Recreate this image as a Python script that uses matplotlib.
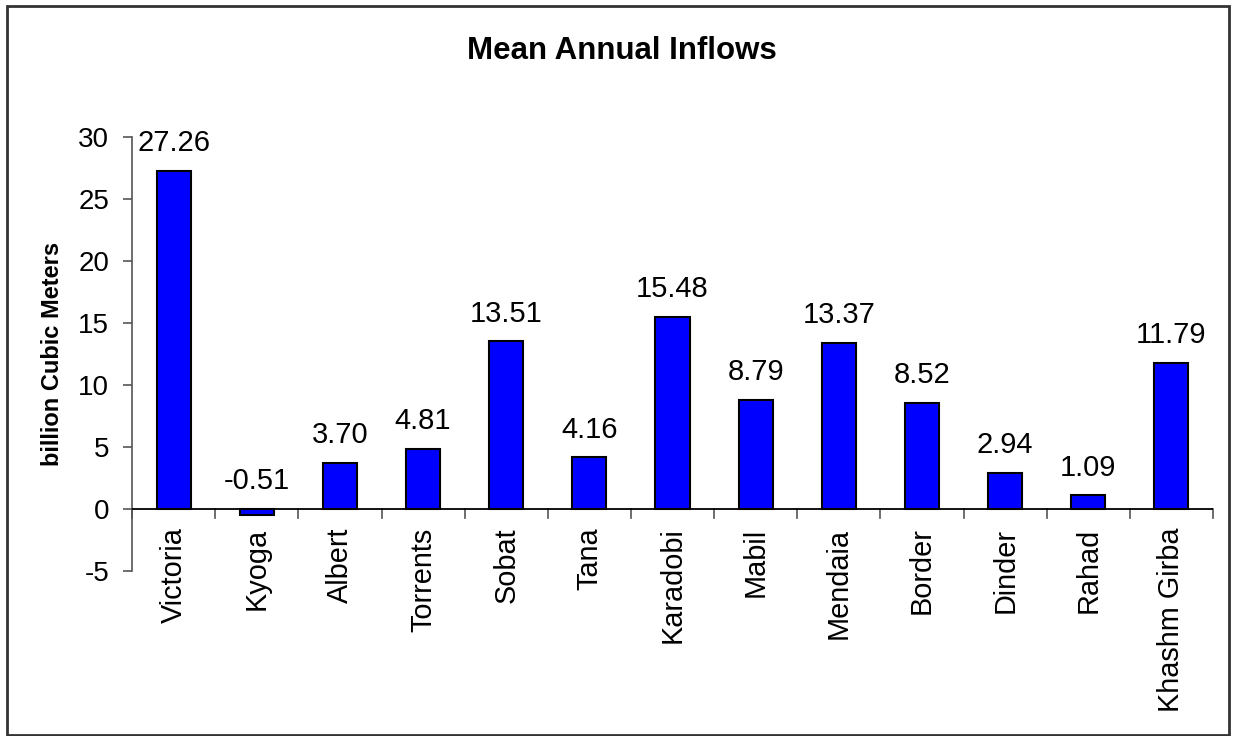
import matplotlib.pyplot as plt
from matplotlib.patches import Rectangle

plt.rcParams['font.family'] = ['Liberation Sans', 'DejaVu Sans']

stations = ['Victoria', 'Kyoga', 'Albert', 'Torrents', 'Sobat', 'Tana',
            'Karadobi', 'Mabil', 'Mendaia', 'Border', 'Dinder', 'Rahad',
            'Khashm Girba']
inflows = [27.26, -0.51, 3.70, 4.81, 13.51, 4.16, 15.48, 8.79, 13.37,
           8.52, 2.94, 1.09, 11.79]
yticks = [-5, 0, 5, 10, 15, 20, 25, 30]

fig = plt.figure(figsize=(12.33, 7.36), dpi=100)
ax = fig.add_axes([0.1071, 0.2242, 0.8767, 0.5897])

x = list(range(len(stations)))
ax.bar(x, inflows, width=0.41, color='#0000ff', edgecolor='black',
       linewidth=1.5, zorder=3)

for xi, v in zip(x, inflows):
    base = max(v, 0)
    ax.annotate(f'{v:.2f}', (xi, base), xytext=(0, 10),
                textcoords='offset points', ha='center', va='bottom',
                fontsize=21)

ax.set_xlim(-0.5, len(stations) - 0.5)
ax.set_ylim(-5, 30)
ax.set_yticks(yticks)
ax.set_yticklabels([str(t) for t in yticks], fontsize=20)
ax.tick_params(axis='y', direction='out', length=6.5, width=1.2,
               color='#555555', pad=10)

# category labels hang below the zero line, ticks sit between categories
ax.set_xticks([i - 0.5 for i in range(len(stations) + 1)])
ax.set_xticklabels([])
ax.tick_params(axis='x', direction='out', length=0)
for i in range(len(stations) + 1):
    ax.plot([i - 0.5, i - 0.5], [0, -0.73], color='#555555', lw=1.2,
            clip_on=False, zorder=4)
ax.axhline(0, color='black', lw=1.3, zorder=4)
for xi, name in zip(x, stations):
    ax.text(xi, -1.5, name, rotation=90, ha='center', va='top',
            fontsize=20.8)

for side in ['top', 'right', 'bottom']:
    ax.spines[side].set_visible(False)
ax.spines['left'].set_color('#555555')
ax.spines['left'].set_linewidth(1.2)

ax.set_ylabel('billion Cubic Meters', fontsize=17, fontweight='bold',
              labelpad=10)
fig.text(0.504, 0.931, 'Mean Annual Inflows', ha='center', va='center',
         fontsize=22.5, fontweight='bold')

fig.patches.append(Rectangle((0.006, 0.002), 0.991, 0.99,
                             transform=fig.transFigure, fill=False,
                             edgecolor='#333333', lw=2))

fig.savefig('out.png', dpi=100)
